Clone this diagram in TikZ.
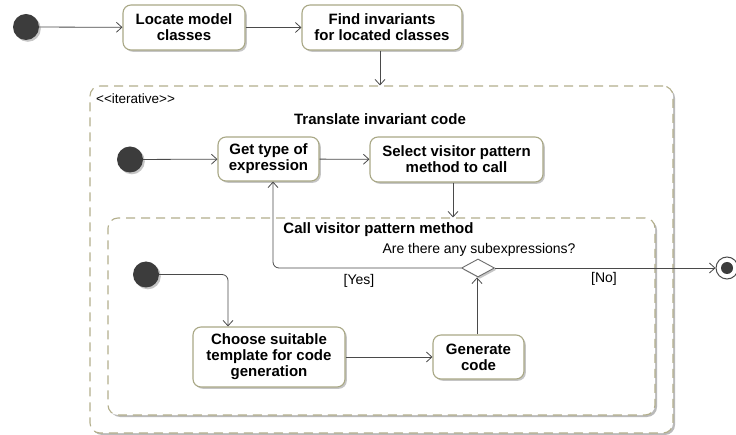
\documentclass[tikz,border=0pt]{standalone}
\usepackage{fontspec}
\setmainfont{Liberation Sans}
\usetikzlibrary{arrows.meta,shapes.geometric,shadows}
\definecolor{boxline}{HTML}{A9A886}
\definecolor{dashline}{HTML}{B3AF8C}
\definecolor{flow}{HTML}{4A4A4A}
\definecolor{dot}{HTML}{3C3C3C}
\begin{document}
\begin{tikzpicture}[x=1pt,y=-1pt,
  shade/.style={drop shadow={shadow xshift=1.8pt,shadow yshift=-1.8pt,fill=black!50,opacity=.45}},
  regionshade/.style={drop shadow={shadow xshift=2pt,shadow yshift=-2pt,fill=black!45,opacity=.6}},
  action/.style={draw=boxline,line width=1.1pt,fill=white,rounded corners=8pt,align=center,
    inner sep=0pt,font=\fontsize{15}{16}\selectfont\bfseries,shade},
  initial/.style={circle,fill=dot,minimum size=26pt,inner sep=0pt,shade},
  region/.style={draw=dashline,line width=1.1pt,dash pattern=on 9pt off 6pt,fill=white,
    rounded corners=10pt,inner sep=0pt,regionshade},
  flowline/.style={draw=flow,line width=0.8pt,-{Straight Barb[length=5.5pt,width=10pt]}},
  guard/.style={font=\fontsize{14}{16}\selectfont},
  title/.style={font=\fontsize{15}{16}\selectfont\bfseries},
]
\useasboundingbox (0,0) rectangle (736,435);

% nested activity regions
\node[region,minimum width=583pt,minimum height=347pt] (outer) at (381.5,259.5) {};
\node[region,minimum width=547pt,minimum height=197pt] (inner) at (381.5,316.5) {};

% region labels
\node[anchor=west,font=\fontsize{13.5}{15}\selectfont,inner sep=0pt] (stereo) at (96,99) {<\kern0pt<iterative>\kern0pt>};
\node[title] (outertitle) at (380,119) {Translate invariant code};
\node[title] (innertitle) at (378.5,230) {Call visitor pattern method};
\node[guard] (question) at (479,250) {Are there any subexpressions?};

% top level flow
\node[initial] (init1) at (26,27) {};
\node[action,minimum width=122pt,minimum height=45pt] (locate) at (184,27.5) {Locate model\\classes};
\node[action,minimum width=160pt,minimum height=45pt] (find) at (382,27.5) {Find invariants\\for located classes};

% iteration body
\node[initial] (init2) at (130,159.5) {};
\node[action,minimum width=101pt,minimum height=44pt] (gettype) at (268.5,159) {Get type of\\expression};
\node[action,minimum width=173pt,minimum height=45pt] (select) at (456.5,159.5) {Select visitor pattern\\method to call};

% visitor method body
\node[initial] (init3) at (146,274.5) {};
\node[action,minimum width=152pt,minimum height=60pt] (choose) at (269,357) {Choose suitable\\template for code\\generation};
\node[action,minimum width=91pt,minimum height=44pt] (generate) at (478.5,357) {Generate\\code};

% decision and final node
\node[diamond,draw=flow!80,line width=0.9pt,fill=white,minimum width=33pt,minimum height=18pt,inner sep=0pt,shade] (decision) at (478,268) {};
\node[circle,draw=flow,line width=1pt,fill=white,minimum size=22pt,inner sep=0pt] (final) at (727,268) {};
\node[circle,fill=dot,minimum size=12pt,inner sep=0pt] (finaldot) at (final.center) {};

% guards
\node[guard] (yes) at (359,281) {[Yes]};
\node[guard] (no) at (604,279) {[No]};

% connectors
\draw[flowline] (init1) -- (locate);
\draw[flowline] (locate) -- (find);
\draw[flowline] ([xshift=-2pt]find.south) -- ([xshift=-2pt]find.south |- outer.north);
\draw[flowline] (init2) -- (gettype);
\draw[flowline] (gettype) -- (select);
\draw[flowline] ([xshift=-3.5pt]select.south) -- ([xshift=-3.5pt]select.south |- inner.north);
\draw[flowline,rounded corners=6pt] (init3.east) -| ([xshift=-41pt]choose.north);
\draw[flowline] (choose.east) -- (generate.west);
\draw[flowline] ([xshift=-1.5pt]generate.north) -- ([xshift=-1pt]decision.south);
\draw[flowline,rounded corners=6pt] (decision.west) -| ([xshift=4.5pt]gettype.south);
\draw[flowline] (decision.east) -- (final.west);
\end{tikzpicture}
\end{document}
